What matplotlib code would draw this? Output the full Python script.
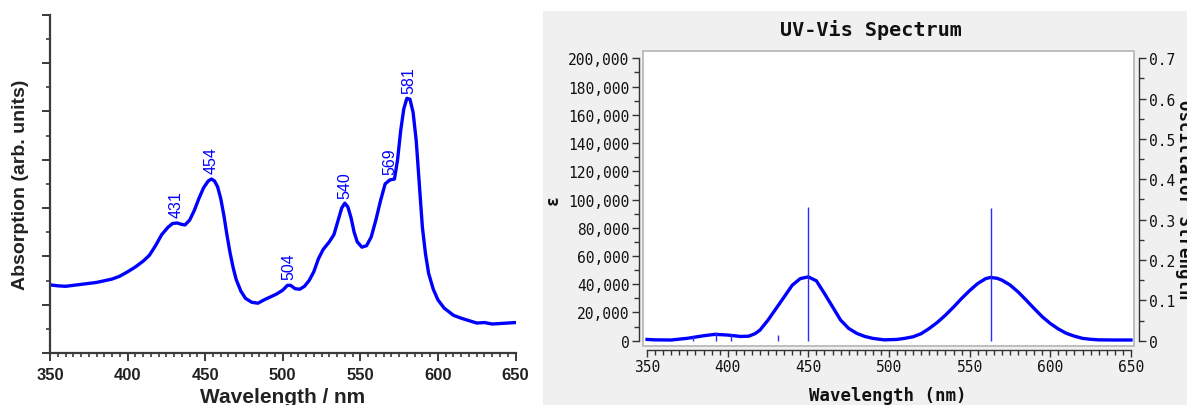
import matplotlib

matplotlib.use("Agg")
import matplotlib.pyplot as plt
from matplotlib.patches import Rectangle
from matplotlib.ticker import FuncFormatter, MultipleLocator

# left panel: measured absorption spectrum (arbitrary units)
abs_nm = [350, 355, 360, 370, 380, 390, 395, 400, 405, 410, 414, 418, 422, 426, 429,
          432, 435, 437, 440, 443, 446, 449, 452, 454, 456, 458, 460, 462, 464, 466,
          468, 470, 473, 476, 480, 484, 488, 492, 496, 500, 503, 505, 508, 511, 514,
          517, 520, 523, 526, 530, 533, 536, 538, 540, 542, 544, 546, 548, 551, 554,
          557, 560, 563, 566, 569, 572, 574, 576, 578, 580, 582, 584, 586, 588, 590,
          592, 594, 597, 600, 604, 610, 615, 620, 625, 630, 635, 640, 645, 650]
abs_val = [1.41, 1.39, 1.38, 1.42, 1.46, 1.53, 1.59, 1.68, 1.78, 1.90, 2.02, 2.22, 2.45, 2.60, 2.68,
           2.69, 2.66, 2.65, 2.75, 2.95, 3.20, 3.42, 3.56, 3.60, 3.56, 3.44, 3.20, 2.86, 2.45, 2.08,
           1.77, 1.52, 1.28, 1.13, 1.05, 1.03, 1.10, 1.16, 1.22, 1.30, 1.40, 1.40, 1.33, 1.32, 1.38,
           1.50, 1.68, 1.95, 2.14, 2.30, 2.45, 2.78, 3.00, 3.10, 3.02, 2.80, 2.50, 2.30, 2.19, 2.22,
           2.40, 2.75, 3.15, 3.50, 3.58, 3.60, 4.00, 4.60, 5.05, 5.27, 5.25, 4.98, 4.40, 3.50, 2.60,
           2.05, 1.65, 1.32, 1.10, 0.93, 0.78, 0.72, 0.67, 0.62, 0.63, 0.60, 0.61, 0.62, 0.63]
peak_nm = [431, 454, 504, 540, 569, 581]
peak_val = [2.69, 3.60, 1.41, 3.10, 3.58, 5.27]

# right panel: computed UV-Vis spectrum
calc_nm = [350, 355, 365, 375, 385, 392, 400, 408, 413, 417, 420, 425, 430, 435, 440,
           445, 450, 455, 460, 465, 470, 475, 480, 485, 490, 497, 505, 510, 515, 520,
           525, 530, 535, 540, 545, 550, 555, 560, 563, 567, 570, 575, 580, 585, 590,
           595, 600, 605, 610, 615, 620, 625, 630, 640, 650]
calc_eps = [900, 600, 500, 1700, 3500, 4500, 4000, 3000, 3200, 5000, 7500, 14600, 22800, 31000, 39300,
            44000, 45200, 42400, 33400, 24000, 14600, 8700, 5200, 3000, 1650, 600, 900, 1700, 2800, 5000,
            8700, 13000, 18100, 23800, 29900, 35500, 40500, 44000, 44800, 44200, 42900, 39500, 34600, 28800, 22800,
            17000, 12200, 8300, 5200, 3200, 1650, 1000, 600, 500, 500]
stick_nm = [378.7, 392.6, 402.0, 431.4, 449.7, 563.1]
stick_f = [0.0124, 0.022, 0.0157, 0.014, 0.331, 0.328]

BLUE = "#0000ff"
W, H = 1187, 406


def fig_box(x0, y0, x1, y1):
    # pixel box (top-left origin) -> figure fraction rect
    return [x0 / W, 1 - y1 / H, (x1 - x0) / W, (y1 - y0) / H]


def draw_left(fig):
    ax = fig.add_axes(fig_box(50, 15.7, 515.5, 354))
    ax.plot(abs_nm, abs_val, color=BLUE, lw=2.4, solid_capstyle="round")
    for x, y in zip(peak_nm, peak_val):
        ax.annotate(str(x), (x, y), xytext=(0, 4), textcoords="offset points",
                    rotation=90, ha="center", va="bottom", color=BLUE,
                    fontsize=11.5, family="Liberation Sans")
    ax.set_xlim(350, 650)
    ax.set_ylim(0, 7)
    for side in ("top", "right"):
        ax.spines[side].set_visible(False)
    for side in ("left", "bottom"):
        ax.spines[side].set_color("#3a3a3a")
        ax.spines[side].set_linewidth(1.6)
    ax.xaxis.set_major_locator(MultipleLocator(50))
    ax.xaxis.set_minor_locator(MultipleLocator(5))
    ax.yaxis.set_major_locator(MultipleLocator(1))
    ax.yaxis.set_minor_locator(MultipleLocator(0.5))
    ax.tick_params(which="major", direction="out", length=6, width=1.4, color="#3a3a3a")
    ax.tick_params(which="minor", direction="out", length=3, width=1.2, color="#3a3a3a")
    ax.tick_params(axis="y", labelleft=False)
    ax.tick_params(axis="x", pad=4)
    for lab in ax.get_xticklabels():
        lab.set_fontfamily("Liberation Sans")
        lab.set_fontweight("bold")
        lab.set_fontsize(12)
        lab.set_color("#222222")
    ax.set_xlabel("Wavelength / nm", family="Liberation Sans", fontweight="bold",
                  fontsize=15, color="#222222", labelpad=4)
    ax.set_ylabel("Absorption (arb. units)", family="Liberation Sans", fontweight="bold",
                  fontsize=14, color="#222222", labelpad=9)


def draw_right(fig):
    fig.patches.append(Rectangle((543 / W, 0), (W - 543) / W, 1 - 12 / H,
                                 transform=fig.transFigure, facecolor="#f0f0f0",
                                 edgecolor="none", zorder=-5))
    mono = "DejaVu Sans Mono"
    ax = fig.add_axes(fig_box(642.7, 51.7, 1134, 346.7))
    ax.set_facecolor("white")
    ax.plot(calc_nm, calc_eps, color=BLUE, lw=2.4)
    ax.set_xlim(347.3, 651.9)
    ax.set_ylim(-3540, 205400)
    ax.add_patch(Rectangle((0, 0), 1, 1, transform=ax.transAxes, fill=False,
                           edgecolor="#b4b4b4", lw=1.2, clip_on=False))

    ax.spines["top"].set_visible(False)
    ax.spines["right"].set_visible(False)
    ax.spines["left"].set_position(("outward", 2.5))
    ax.spines["bottom"].set_position(("outward", 2.9))
    ax.spines["left"].set_bounds(0, 200000)
    ax.spines["bottom"].set_bounds(350, 650)
    for side in ("left", "bottom"):
        ax.spines[side].set_color("#333333")
        ax.spines[side].set_linewidth(1.0)

    ax.xaxis.set_major_locator(MultipleLocator(50))
    ax.xaxis.set_minor_locator(MultipleLocator(5))
    ax.yaxis.set_major_locator(MultipleLocator(20000))
    ax.yaxis.set_minor_locator(MultipleLocator(10000))
    ax.yaxis.set_major_formatter(FuncFormatter(lambda v, _: f"{int(round(v)):,}"))
    ax.tick_params(which="major", direction="out", length=5, width=1.0, color="#333333",
                   labelsize=10.5, pad=2)
    ax.tick_params(which="minor", direction="out", length=3.5, width=1.0, color="#333333")
    for lab in ax.get_xticklabels() + ax.get_yticklabels():
        lab.set_fontfamily(mono)
        lab.set_color("#111111")

    ax2 = ax.twinx()
    ax2.vlines(stick_nm, 0, stick_f, color="#2a2aff", lw=1.0)
    ax2.set_ylim(-0.0124, 0.7188)
    for side in ("top", "left", "bottom"):
        ax2.spines[side].set_visible(False)
    ax2.spines["right"].set_position(("outward", 3.6))
    ax2.spines["right"].set_bounds(0, 0.7)
    ax2.spines["right"].set_color("#333333")
    ax2.spines["right"].set_linewidth(1.0)
    ax2.yaxis.set_major_locator(MultipleLocator(0.1))
    ax2.yaxis.set_minor_locator(MultipleLocator(0.05))
    ax2.yaxis.set_major_formatter(FuncFormatter(lambda v, _: "0" if abs(v) < 1e-9 else f"{v:.1f}"))
    ax2.tick_params(which="major", direction="out", length=5, width=1.0, color="#333333",
                    labelsize=10.5, pad=2)
    ax2.tick_params(which="minor", direction="out", length=3.5, width=1.0, color="#333333")
    for lab in ax2.get_yticklabels():
        lab.set_fontfamily(mono)
        lab.set_color("#111111")

    fig.text(871 / W, 1 - 30 / H, "UV-Vis Spectrum", family=mono, fontweight="bold",
             fontsize=14.5, ha="center", va="center", color="#111111")
    fig.text(888 / W, 1 - 396 / H, "Wavelength (nm)", family=mono, fontweight="bold",
             fontsize=12.5, ha="center", va="center", color="#111111")
    fig.text(553 / W, 1 - 200 / H, "ε", family=mono, fontweight="bold",
             fontsize=12, ha="center", va="center", rotation=90, color="#111111")
    fig.text(1184 / W, 1 - 200 / H, "Oscillator Strength", family=mono, fontweight="bold",
             fontsize=12.5, ha="center", va="center", rotation=270, color="#111111")


def main():
    fig = plt.figure(figsize=(W / 100, H / 100), dpi=100)
    fig.patch.set_facecolor("white")
    draw_left(fig)
    draw_right(fig)
    fig.savefig("out.png", dpi=100)


if __name__ == "__main__":
    main()
